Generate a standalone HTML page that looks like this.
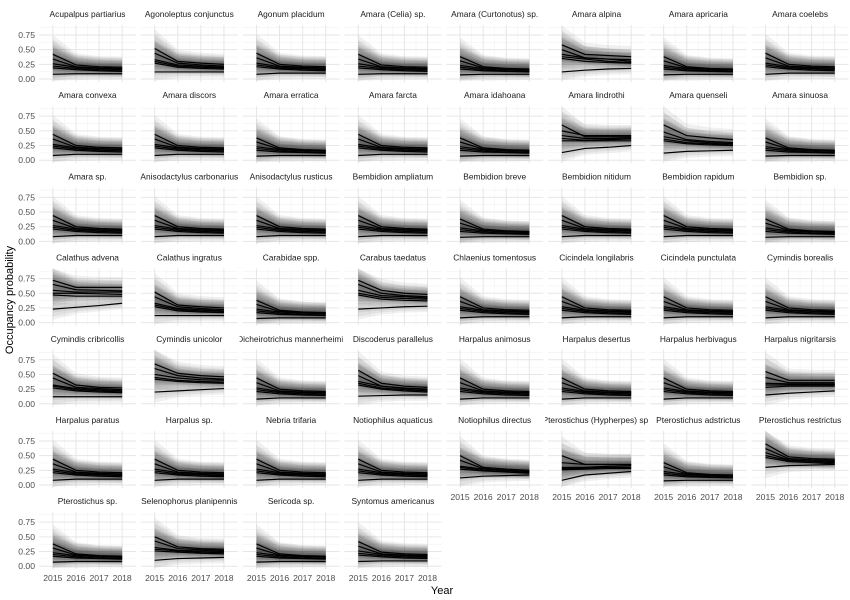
<!DOCTYPE html>
<html><head><meta charset="utf-8"><style>
body{margin:0;background:#fff}
svg{display:block;font-family:"Liberation Sans",sans-serif}
</style></head><body>
<svg id="c" width="850" height="600"></svg>
<script>
const years=[2015,2016,2017,2018];
const yTicks=[0,0.25,0.5,0.75];
const yTickLabels=["0.00","0.25","0.50","0.75"];
const ribbonWidth=[0.33,0.2,0.18,0.18];
const G=[[0.42,0.24,0.21,0.2],[0.34,0.21,0.19,0.18],[0.26,0.2,0.18,0.17],[0.22,0.18,0.16,0.15],[0.19,0.16,0.14,0.13],[0.08,0.09,0.09,0.09]];
const G2=[[0.44,0.25,0.22,0.21],[0.36,0.22,0.2,0.19],[0.27,0.21,0.19,0.18],[0.24,0.19,0.17,0.16],[0.21,0.17,0.15,0.14],[0.08,0.1,0.1,0.1]];
const G3=[[0.38,0.21,0.18,0.17],[0.31,0.19,0.17,0.16],[0.23,0.18,0.16,0.15],[0.2,0.16,0.14,0.13],[0.17,0.14,0.13,0.12],[0.07,0.08,0.08,0.08]];
const AGO=[[0.52,0.3,0.27,0.25],[0.44,0.27,0.24,0.22],[0.33,0.24,0.22,0.2],[0.3,0.22,0.2,0.19],[0.27,0.2,0.18,0.17],[0.12,0.12,0.12,0.12]];
const species=["Acupalpus partiarius","Agonoleptus conjunctus","Agonum placidum","Amara (Celia) sp.","Amara (Curtonotus) sp.","Amara alpina","Amara apricaria","Amara coelebs",
"Amara convexa","Amara discors","Amara erratica","Amara farcta","Amara idahoana","Amara lindrothi","Amara quenseli","Amara sinuosa",
"Amara sp.","Anisodactylus carbonarius","Anisodactylus rusticus","Bembidion ampliatum","Bembidion breve","Bembidion nitidum","Bembidion rapidum","Bembidion sp.",
"Calathus advena","Calathus ingratus","Carabidae spp.","Carabus taedatus","Chlaenius tomentosus","Cicindela longilabris","Cicindela punctulata","Cymindis borealis",
"Cymindis cribricollis","Cymindis unicolor","Dicheirotrichus mannerheimii","Discoderus parallelus","Harpalus animosus","Harpalus desertus","Harpalus herbivagus","Harpalus nigritarsis",
"Harpalus paratus","Harpalus sp.","Nebria trifaria","Notiophilus aquaticus","Notiophilus directus","Pterostichus (Hypherpes) sp.","Pterostichus adstrictus","Pterostichus restrictus",
"Pterostichus sp.","Selenophorus planipennis","Sericoda sp.","Syntomus americanus"];
const lines=[G,AGO,G2,G,G3,
[[0.58,0.42,0.4,0.38],[0.5,0.36,0.34,0.33],[0.42,0.36,0.34,0.3],[0.38,0.34,0.3,0.28],[0.35,0.3,0.28,0.27],[0.12,0.15,0.17,0.18]],
G3,G2,
G2,G2,G3,G2,G3,
[[0.6,0.4,0.4,0.4],[0.5,0.42,0.42,0.42],[0.42,0.37,0.37,0.38],[0.37,0.34,0.35,0.36],[0.33,0.33,0.33,0.33],[0.13,0.2,0.22,0.25]],
[[0.6,0.42,0.38,0.35],[0.48,0.35,0.32,0.3],[0.4,0.33,0.3,0.28],[0.36,0.3,0.28,0.26],[0.33,0.28,0.26,0.25],[0.12,0.15,0.16,0.17]],
G3,
G2,G2,G2,G2,G3,G2,G2,G3,
[[0.72,0.6,0.6,0.6],[0.65,0.56,0.55,0.54],[0.55,0.52,0.52,0.52],[0.5,0.5,0.49,0.48],[0.47,0.45,0.45,0.45],[0.23,0.26,0.29,0.33]],
AGO,G3,
[[0.72,0.55,0.5,0.48],[0.65,0.5,0.46,0.44],[0.55,0.46,0.44,0.42],[0.5,0.43,0.41,0.4],[0.47,0.4,0.38,0.37],[0.23,0.25,0.27,0.28]],
G2,G2,G2,G2,
[[0.52,0.32,0.28,0.27],[0.44,0.28,0.26,0.24],[0.32,0.26,0.24,0.22],[0.3,0.24,0.22,0.2],[0.27,0.22,0.2,0.19],[0.12,0.12,0.12,0.12]],
[[0.68,0.52,0.48,0.46],[0.6,0.48,0.44,0.42],[0.5,0.44,0.41,0.4],[0.45,0.4,0.38,0.37],[0.42,0.38,0.36,0.35],[0.2,0.22,0.24,0.26]],
G2,
[[0.57,0.35,0.3,0.28],[0.48,0.3,0.27,0.25],[0.38,0.3,0.26,0.24],[0.35,0.27,0.24,0.22],[0.32,0.25,0.22,0.2],[0.13,0.14,0.15,0.15]],
G2,G2,G2,
[[0.55,0.4,0.4,0.4],[0.45,0.36,0.36,0.36],[0.35,0.34,0.34,0.34],[0.32,0.32,0.32,0.32],[0.28,0.3,0.3,0.3],[0.15,0.18,0.2,0.22]],
G2,G2,G2,G2,
[[0.5,0.3,0.27,0.25],[0.42,0.28,0.25,0.23],[0.32,0.27,0.25,0.23],[0.3,0.25,0.23,0.21],[0.27,0.24,0.22,0.2],[0.12,0.15,0.16,0.17]],
[[0.5,0.35,0.35,0.35],[0.38,0.35,0.35,0.35],[0.3,0.3,0.32,0.33],[0.28,0.28,0.3,0.3],[0.26,0.27,0.28,0.28],[0.08,0.17,0.2,0.23]],
G3,
[[0.7,0.48,0.45,0.44],[0.62,0.45,0.43,0.42],[0.55,0.43,0.41,0.4],[0.5,0.42,0.4,0.38],[0.47,0.4,0.38,0.36],[0.3,0.33,0.34,0.35]],
G3,
[[0.5,0.33,0.3,0.29],[0.43,0.3,0.28,0.27],[0.32,0.27,0.26,0.25],[0.29,0.26,0.24,0.23],[0.26,0.24,0.22,0.21],[0.1,0.13,0.14,0.15]],
G3,G];
const NS="http://www.w3.org/2000/svg";
const svg=document.getElementById('c');
function mk(t,a,p){const e=document.createElementNS(NS,t);for(const k in a)e.setAttribute(k,a[k]);(p||svg).appendChild(e);return e;}
const PITCH=101.8,ROWP=81.2,YS=58.7;
const nPanels=Math.min(species.length,lines.length);
function xS(c,yr){return 39+c*PITCH+ (yr-2014.4)/(4.2)*97;}
function yS(r,v){return 79+r*ROWP - v*YS;}
const labelLayer=[];
for(let i=0;i<nPanels;i++){
  const r=Math.floor(i/8),c=i%8;
  const g=mk('g',{});
  
  
  const x0=39+c*PITCH,x1=x0+97,yt=yS(r,0.92),yb=yS(r,-0.05);
  [0.125,0.375,0.625,0.875].forEach(v=>mk('line',{x1:x0,x2:x1,y1:yS(r,v),y2:yS(r,v),stroke:'#f2f2f2','stroke-width':0.6},g));
  [2015.5,2016.5,2017.5].forEach(v=>mk('line',{x1:xS(c,v),x2:xS(c,v),y1:yt,y2:yb,stroke:'#f2f2f2','stroke-width':0.6},g));
  yTicks.forEach(v=>mk('line',{x1:x0,x2:x1,y1:yS(r,v),y2:yS(r,v),stroke:'#e6e6e6','stroke-width':1},g));
  years.forEach(v=>mk('line',{x1:xS(c,v),x2:xS(c,v),y1:yt,y2:yb,stroke:'#e6e6e6','stroke-width':1},g));
  const L=lines[i];
  L.forEach(ln=>{
    for(let k=1;k<=3;k++){
      const f=k/3;
      const up=ln.map((v,j)=>xS(c,years[j])+','+yS(r,Math.min(0.92,v+ribbonWidth[j]*f)));
      const lo=ln.map((v,j)=>xS(c,years[j])+','+yS(r,Math.max(-0.03,v-ribbonWidth[j]*0.55*f))).reverse();
      const p=mk('polygon',{points:up.concat(lo).join(' '),fill:'#000','fill-opacity':0.06},g);
      
      
    }
  });
  L.forEach(ln=>{
    const p=mk('polyline',{points:ln.map((v,j)=>xS(c,years[j])+','+yS(r,v)).join(' '),fill:'none',stroke:'#000','stroke-width':1.2},g);
    
    
  });
  const cp=mk('clipPath',{id:'cp'+i},g);mk('rect',{x:x0-3,y:yS(r,0)-80,width:103,height:30},cp);
  const t=mk('text',{x:(x0+x1)/2,y:yS(r,0)-62,'text-anchor':'middle','font-size':8.4,fill:'#1a1a1a','clip-path':'url(#cp'+i+')'},g);
  t.textContent=species[i];
  
  
  if(c===0){yTicks.forEach((v,k)=>{const tt=mk('text',{x:35,y:yS(r,v)+3,'text-anchor':'end','font-size':8.6,fill:'#4d4d4d'},g);tt.textContent=yTickLabels[k];
    
    });}
  if(i+8>=nPanels) labelLayer.push([r,c]);
}
labelLayer.forEach(([r,c])=>{
  years.forEach(v=>{const tt=mk('text',{x:xS(c,v),y:yS(r,0)+15,'text-anchor':'middle','font-size':8.6,fill:'#4d4d4d'});tt.textContent=v;
    
    });
});
const yt=mk('text',{x:0,y:0,transform:'translate(13,300) rotate(-90)','text-anchor':'middle','font-size':11,fill:'#000'});
yt.textContent='Occupancy probability';


const xt=mk('text',{x:442,y:594,'text-anchor':'middle','font-size':11,fill:'#000'});
xt.textContent='Year';


</script>
</body></html>
